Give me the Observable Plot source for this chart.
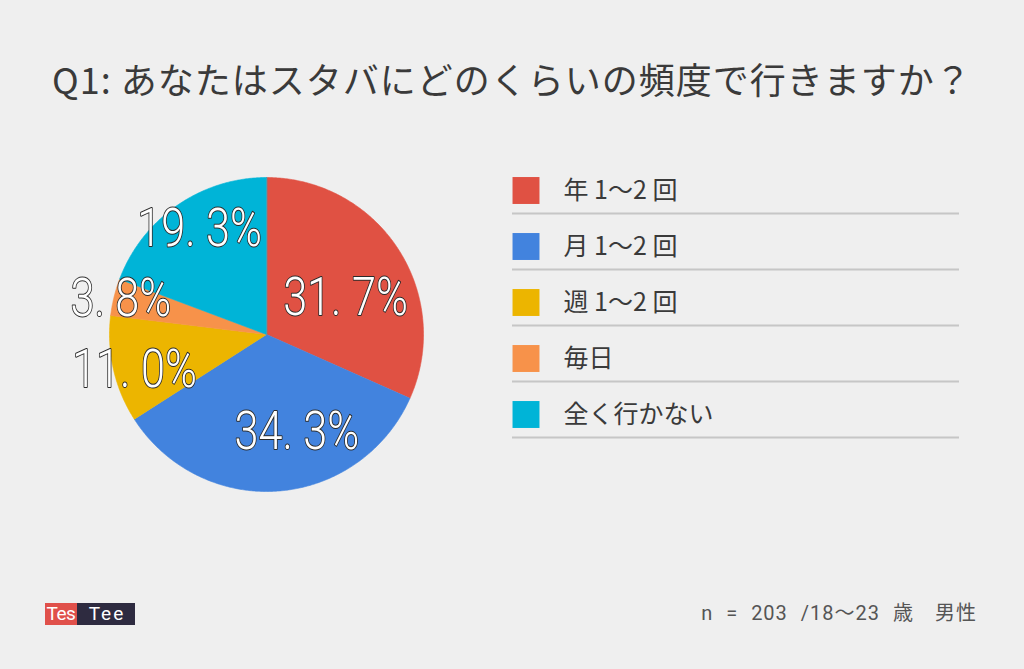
<!DOCTYPE html>
<html>
<head>
<meta charset="utf-8">
<script src="https://cdn.jsdelivr.net/npm/d3@7"></script>
<script src="https://cdn.jsdelivr.net/npm/@observablehq/plot@0.6"></script>
<style>
  html, body { margin: 0; padding: 0; background: #efefef; }
  #page { position: relative; width: 1024px; height: 669px; background: #efefef; overflow: hidden;
          font-family: "Noto Sans CJK JP", "Noto Sans", sans-serif; color: #3a3a3a; }
  #title { position: absolute; left: 0; width: 1024px; top: 54px; text-align: center;
           font-size: 36px; line-height: 48px; color: #3a3a3a; white-space: nowrap; letter-spacing: 1px; }
  #pie { position: absolute; left: 36px; top: 134px; }
  #legend { position: absolute; left: 505px; top: 160px; }
  #logo { position: absolute; left: 45px; top: 603px; height: 22px; display: flex;
          font-family: Roboto, "Liberation Sans", sans-serif; font-size: 19px; line-height: 22px; color: #fff; }
  #logo span { display: block; height: 22px; text-align: center; }
  #note { position: absolute; right: 47px; top: 598px; font-size: 20px; line-height: 30px; color: #555;
          font-family: Roboto, "Noto Sans CJK JP", sans-serif; white-space: pre; letter-spacing: 1px; word-spacing: 7px; }
</style>
</head>
<body>
<div id="page">
  <div id="title"></div>
  <div id="pie"></div>
  <div id="legend"></div>
  <div id="logo"><span style="background:#e0504a;width:32px;letter-spacing:-0.5px">Tes</span><span style="background:#2e2b40;width:58px;letter-spacing:2px;text-indent:2px">Tee</span></div>
  <div id="note"></div>
</div>
<script>
// ---- data ----
const titleText = "Q1: あなたはスタバにどのくらいの頻度で行きますか？";
const noteText = "n = 203 /18～23 歳　男性";
const categories = ["年 1～2 回", "月 1～2 回", "週 1～2 回", "毎日", "全く行かない"];
const shares = [31.7, 34.3, 11.0, 3.8, 19.3];
const shareLabels = ["31. 7%", "34. 3%", "11. 0%", "3. 8%", "19. 3%"];
const colors = ["#e05143", "#4283de", "#ecb500", "#f7924a", "#00b4d7"];

// ---- layout ----
const R = 157;                                         // pie radius, px
const labelRadius = [0.555, 0.65, 0.87, 0.955, 0.8];   // label distance as fraction of radius
const labelTurn = [8, -13, -2, 0, 2.5];                // label angle tweak, degrees

document.getElementById("title").textContent = titleText;
document.getElementById("note").textContent = noteText;

// build wedge outlines from the shares
const total = d3.sum(shares);
const wedges = [];
const labelPts = [];
let acc = 0;
shares.forEach((v, i) => {
  const a0 = acc / total * 2 * Math.PI;
  acc += v;
  const a1 = acc / total * 2 * Math.PI;
  const cat = categories[i];
  wedges.push({cat, x: 0, y: 0});
  const n = Math.max(2, Math.ceil((a1 - a0) / (Math.PI / 360)));
  for (let k = 0; k <= n; k++) {
    const a = a0 + (a1 - a0) * k / n;
    wedges.push({cat, x: Math.sin(a), y: Math.cos(a)});
  }
  const m = (a0 + a1) / 2 + labelTurn[i] * Math.PI / 180;
  labelPts.push({cat, text: shareLabels[i], x: Math.sin(m) * labelRadius[i], y: Math.cos(m) * labelRadius[i]});
});

const W = 460, H = 400, cx = 230, cy = 200;
const pie = Plot.plot({
  width: W, height: H, margin: 0,
  style: {background: "transparent", overflow: "visible"},
  x: {domain: [-1, 1], range: [cx - R, cx + R], axis: null},
  y: {domain: [-1, 1], range: [cy + R, cy - R], axis: null},
  color: {domain: categories, range: colors},
  marks: [
    Plot.line(wedges, {x: "x", y: "y", z: "cat", fill: "cat", stroke: "cat", strokeWidth: 0.6, curve: "linear-closed"}),
    Plot.text(labelPts, {x: "x", y: "y", text: "text", fill: "#fff", stroke: "#2a2a2a", strokeWidth: 2,
      paintOrder: "stroke", fontSize: 54, fontWeight: 300, fontFamily: "Roboto, Liberation Sans, sans-serif",
      textAnchor: "middle", lineAnchor: "middle"})
  ]
});
document.getElementById("pie").appendChild(pie);
// condense the percentage labels horizontally
d3.select(pie).selectAll("text").each(function() {
  const L = this.getComputedTextLength();
  this.setAttribute("textLength", (L * 0.8).toFixed(1));
  this.setAttribute("lengthAdjust", "spacingAndGlyphs");
});

const legend = Plot.plot({
  width: 460, height: 290, margin: 0,
  style: {background: "transparent", overflow: "visible"},
  y: {type: "point", domain: categories, range: [29.5, 253.5], padding: 0, axis: null},
  color: {domain: categories, range: colors},
  marks: [
    Plot.ruleY(categories, {y: d => d, dy: 23, stroke: "#c6c6c6", strokeWidth: 2, insetLeft: 7, insetRight: 6}),
    Plot.dot(categories, {y: d => d, frameAnchor: "left", dx: 20.5, symbol: "square", r: 15.2, fill: d => d, stroke: null}),
    Plot.text(categories, {y: d => d, text: d => d, frameAnchor: "left", dx: 58, textAnchor: "start",
      fontSize: 25, fill: "#3a3a3a", fontFamily: "Noto Sans CJK JP, Noto Sans, sans-serif"})
  ]
});
document.getElementById("legend").appendChild(legend);
</script>
</body>
</html>
